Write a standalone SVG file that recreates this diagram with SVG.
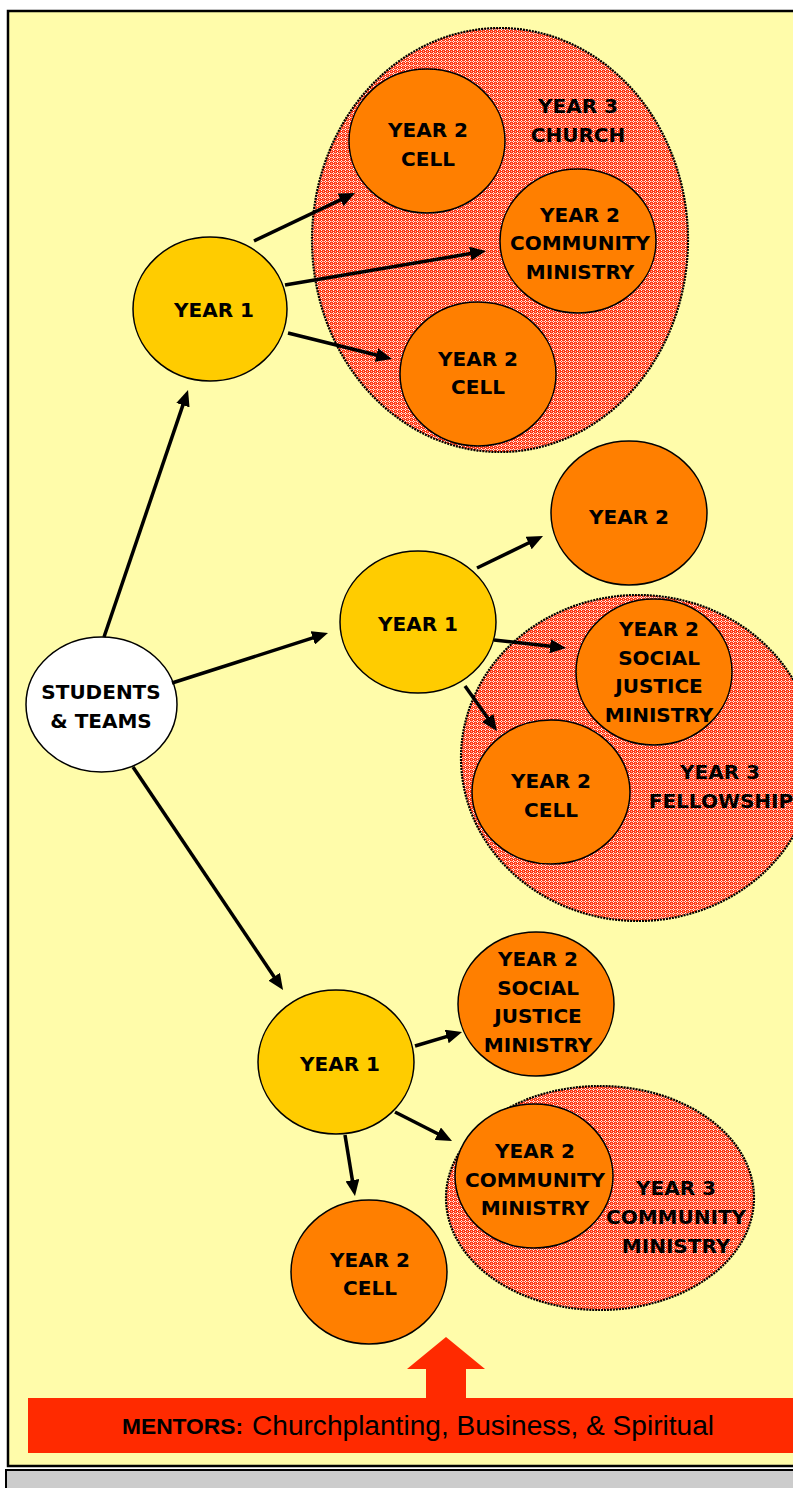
<svg xmlns="http://www.w3.org/2000/svg" width="793" height="1488" viewBox="0 0 793 1488">
<defs>
<pattern id="hatch" width="4" height="4" patternUnits="userSpaceOnUse">
<rect width="4" height="4" fill="#FF3815"/>
<rect x="1" y="0" width="1" height="1" fill="#FFFFFF"/>
<rect x="0" y="1" width="1" height="1" fill="#FFE0D8"/>
<rect x="2" y="1" width="1" height="1" fill="#FFE0D8"/>
<rect x="1" y="2" width="1" height="1" fill="#FFFFFF"/>
<rect x="3" y="3" width="1" height="1" fill="#FFB0A0"/>
<rect x="3" y="1" width="1" height="1" fill="#FF8A70"/>
</pattern>
<marker id="arr" viewBox="0 0 16 14" markerWidth="16" markerHeight="14" markerUnits="userSpaceOnUse" refX="5" refY="7" orient="auto">
<path d="M0,0 L16,7 L0,14 z" fill="#000"/>
</marker>
</defs>
<style>
.group{fill:url(#hatch);stroke:#000;stroke-width:2.2;stroke-dasharray:2 1;}
.y1{fill:#FFCC00;stroke:#000;stroke-width:1.5;}
.y2{fill:#FF7F00;stroke:#000;stroke-width:1.5;}
.st{fill:#FFFFFF;stroke:#000;stroke-width:1.5;}
.lbl{font-family:"DejaVu Sans",Verdana,sans-serif;font-weight:bold;font-size:20px;fill:#000;text-anchor:middle;}
.conn line{stroke:#000;stroke-width:3.5;marker-end:url(#arr);}
</style>
<rect x="-10" y="-10" width="820" height="1510" fill="#FFFFFF"/>
<rect x="8" y="11" width="800" height="1455" fill="#FFFCAA" stroke="#000" stroke-width="2.5"/>
<rect x="6" y="1470" width="800" height="30" fill="#CCCCCC" stroke="#000" stroke-width="2"/>

<g id="year3-church">
<ellipse class="group" cx="500" cy="240" rx="188" ry="212"/>
<text class="lbl" x="578" y="113">YEAR 3</text>
<text class="lbl" x="578" y="142">CHURCH</text>
</g>
<g id="year3-fellowship">
<ellipse class="group" cx="638" cy="758" rx="177" ry="163"/>
<text class="lbl" x="720" y="779">YEAR 3</text>
<text class="lbl" x="721" y="808">FELLOWSHIP</text>
</g>
<g id="year3-community">
<ellipse class="group" cx="600" cy="1198" rx="154" ry="112"/>
<text class="lbl" x="676" y="1195">YEAR 3</text>
<text class="lbl" x="676" y="1224">COMMUNITY</text>
<text class="lbl" x="676" y="1253">MINISTRY</text>
</g>

<g id="students">
<ellipse class="st" cx="101.5" cy="704.5" rx="75.5" ry="67.5"/>
<text class="lbl" x="101" y="699">STUDENTS</text>
<text class="lbl" x="101" y="728">&amp; TEAMS</text>
</g>

<g id="y1-top">
<ellipse class="y1" cx="210" cy="309" rx="77" ry="72"/>
<text class="lbl" x="214" y="317">YEAR 1</text>
</g>
<g id="y1-mid">
<ellipse class="y1" cx="418" cy="622" rx="78" ry="71"/>
<text class="lbl" x="418" y="631">YEAR 1</text>
</g>
<g id="y1-bottom">
<ellipse class="y1" cx="336" cy="1062" rx="78" ry="72"/>
<text class="lbl" x="340" y="1071">YEAR 1</text>
</g>

<g id="y2-cell-a">
<ellipse class="y2" cx="427" cy="141" rx="78" ry="72"/>
<text class="lbl" x="428" y="137">YEAR 2</text>
<text class="lbl" x="428" y="166">CELL</text>
</g>
<g id="y2-community-a">
<ellipse class="y2" cx="578" cy="241" rx="78" ry="72"/>
<text class="lbl" x="580" y="222">YEAR 2</text>
<text class="lbl" x="580" y="250">COMMUNITY</text>
<text class="lbl" x="580" y="279">MINISTRY</text>
</g>
<g id="y2-cell-b">
<ellipse class="y2" cx="478" cy="374" rx="78" ry="72"/>
<text class="lbl" x="478" y="366">YEAR 2</text>
<text class="lbl" x="478" y="394">CELL</text>
</g>
<g id="y2-plain">
<ellipse class="y2" cx="629" cy="513" rx="78" ry="72"/>
<text class="lbl" x="629" y="524">YEAR 2</text>
</g>
<g id="y2-sjm-a">
<ellipse class="y2" cx="654" cy="672" rx="78" ry="73"/>
<text class="lbl" x="659" y="636">YEAR 2</text>
<text class="lbl" x="659" y="665">SOCIAL</text>
<text class="lbl" x="659" y="693">JUSTICE</text>
<text class="lbl" x="659" y="722">MINISTRY</text>
</g>
<g id="y2-cell-c">
<ellipse class="y2" cx="551" cy="792" rx="79" ry="72"/>
<text class="lbl" x="551" y="788">YEAR 2</text>
<text class="lbl" x="551" y="817">CELL</text>
</g>
<g id="y2-sjm-b">
<ellipse class="y2" cx="536" cy="1004" rx="78" ry="72"/>
<text class="lbl" x="538" y="966">YEAR 2</text>
<text class="lbl" x="538" y="995">SOCIAL</text>
<text class="lbl" x="538" y="1023">JUSTICE</text>
<text class="lbl" x="538" y="1052">MINISTRY</text>
</g>
<g id="y2-community-b">
<ellipse class="y2" cx="534" cy="1176" rx="79" ry="72"/>
<text class="lbl" x="535" y="1158">YEAR 2</text>
<text class="lbl" x="535" y="1187">COMMUNITY</text>
<text class="lbl" x="535" y="1215">MINISTRY</text>
</g>
<g id="y2-cell-d">
<ellipse class="y2" cx="369" cy="1272" rx="78" ry="72"/>
<text class="lbl" x="370" y="1267">YEAR 2</text>
<text class="lbl" x="370" y="1295">CELL</text>
</g>

<g id="connectors" class="conn">
<line x1="104" y1="637" x2="184.5" y2="400.4"/>
<line x1="172" y1="683" x2="317.5" y2="636.4"/>
<line x1="133" y1="767" x2="276.9" y2="980.9"/>
<line x1="254" y1="241" x2="345.1" y2="197.7"/>
<line x1="285" y1="285" x2="475.2" y2="252.8"/>
<line x1="288" y1="333" x2="381.3" y2="356.3"/>
<line x1="477" y1="568" x2="533.1" y2="540.8"/>
<line x1="494" y1="640" x2="555.1" y2="646.8"/>
<line x1="465" y1="686" x2="490.6" y2="722"/>
<line x1="415" y1="1046" x2="451.5" y2="1035.1"/>
<line x1="395" y1="1112" x2="442.2" y2="1136"/>
<line x1="345" y1="1135" x2="353.2" y2="1185.1"/>
</g>

<g id="mentors">
<polygon points="446,1337 485,1369 466,1369 466,1399 426,1399 426,1369 407,1369" fill="#FF2A00"/>
<rect x="28" y="1398" width="770" height="55" fill="#FF2A00"/>
<text x="122" y="1434" font-family="Liberation Sans, Arial, sans-serif" font-weight="bold" font-size="22" textLength="121" lengthAdjust="spacingAndGlyphs" fill="#000">MENTORS:</text>
<text x="252" y="1435" font-family="Liberation Sans, Arial, sans-serif" font-size="27" textLength="462" lengthAdjust="spacingAndGlyphs" fill="#000">Churchplanting, Business, &amp; Spiritual</text>
</g>
</svg>
